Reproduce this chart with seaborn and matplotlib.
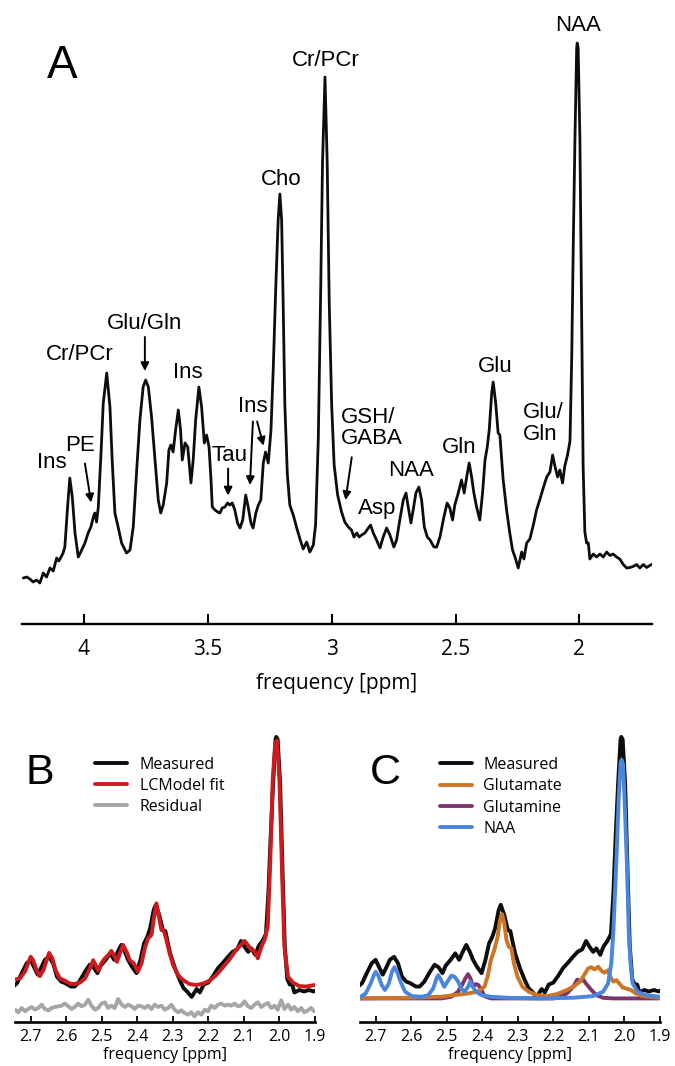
import matplotlib
matplotlib.use("Agg")
import matplotlib.pyplot as plt
import seaborn as sns

# ---------------- Panel A: measured spectrum (ppm, intensity a.u.) ----------------
ppm_A = [4.245, 4.231, 4.218, 4.205, 4.191, 4.178, 4.164, 4.151, 4.137, 4.124,
         4.110, 4.101, 4.084, 4.077, 4.066, 4.057, 4.047, 4.036, 4.023, 4.009,
         3.996, 3.983, 3.972, 3.962, 3.956, 3.949, 3.942, 3.931, 3.922, 3.908,
         3.895, 3.886, 3.875, 3.862, 3.848, 3.828, 3.814, 3.801, 3.787, 3.774,
         3.761, 3.751, 3.740, 3.727, 3.713, 3.700, 3.690, 3.680, 3.666, 3.657,
         3.649, 3.640, 3.630, 3.619, 3.610, 3.603, 3.592, 3.581, 3.568, 3.559,
         3.549, 3.536, 3.525, 3.514, 3.505, 3.495, 3.487, 3.482, 3.471, 3.460,
         3.451, 3.442, 3.431, 3.420, 3.411, 3.401, 3.391, 3.380, 3.370, 3.359,
         3.347, 3.337, 3.326, 3.317, 3.306, 3.296, 3.286, 3.276, 3.267, 3.256,
         3.245, 3.236, 3.226, 3.216, 3.209, 3.202, 3.196, 3.189, 3.179, 3.169,
         3.155, 3.141, 3.128, 3.115, 3.101, 3.088, 3.074, 3.065, 3.054, 3.045,
         3.037, 3.027, 3.018, 3.010, 3.000, 2.990, 2.976, 2.960, 2.947, 2.933,
         2.920, 2.910, 2.899, 2.889, 2.879, 2.866, 2.852, 2.843, 2.832, 2.819,
         2.805, 2.792, 2.778, 2.765, 2.749, 2.738, 2.725, 2.711, 2.700, 2.691,
         2.680, 2.671, 2.660, 2.648, 2.637, 2.626, 2.614, 2.603, 2.587, 2.576,
         2.563, 2.547, 2.534, 2.523, 2.512, 2.503, 2.489, 2.476, 2.465, 2.455,
         2.445, 2.435, 2.426, 2.415, 2.402, 2.391, 2.381, 2.372, 2.364, 2.354,
         2.348, 2.338, 2.328, 2.321, 2.308, 2.294, 2.281, 2.270, 2.260, 2.247,
         2.233, 2.224, 2.213, 2.200, 2.186, 2.173, 2.159, 2.146, 2.132, 2.119,
         2.108, 2.099, 2.088, 2.079, 2.068, 2.059, 2.048, 2.038, 2.031, 2.025,
         2.018, 2.011, 2.009, 2.005, 1.998, 1.991, 1.985, 1.978, 1.971, 1.964,
         1.958, 1.944, 1.931, 1.917, 1.904, 1.890, 1.877, 1.864, 1.850, 1.837,
         1.823, 1.809, 1.796, 1.783, 1.769, 1.756, 1.742, 1.729, 1.709]
int_A = [47, 48, 46, 43, 45, 42, 52, 48, 57, 54,
         67, 64, 72, 78, 118, 147, 128, 92, 68, 75,
         82, 92, 98, 108, 112, 103, 118, 172, 222, 252,
         218, 165, 112, 98, 82, 72, 75, 98, 155, 205,
         238, 245, 238, 208, 165, 125, 112, 120, 142, 175,
         180, 173, 195, 215, 195, 165, 182, 178, 142, 165,
         205, 238, 218, 182, 190, 178, 145, 118, 115, 113,
         112, 117, 118, 122, 120, 122, 115, 102, 97, 105,
         130, 118, 102, 97, 112, 120, 125, 162, 173, 162,
         195, 255, 335, 405, 431, 405, 325, 220, 151, 120,
         110, 97, 86, 76, 83, 73, 80, 100, 186, 324,
         462, 548, 462, 324, 220, 160, 130, 113, 103, 98,
         95, 88, 92, 88, 90, 92, 97, 100, 92, 85,
         77, 88, 97, 90, 78, 85, 105, 125, 132, 118,
         102, 115, 132, 138, 125, 98, 88, 85, 78, 78,
         88, 108, 122, 117, 105, 120, 132, 145, 132, 148,
         162, 148, 132, 118, 105, 132, 165, 178, 195, 232,
         243, 222, 192, 190, 146, 115, 92, 75, 68, 57,
         73, 66, 82, 86, 100, 115, 126, 137, 148, 153,
         170, 159, 148, 155, 142, 159, 170, 184, 268, 377,
         486, 577, 582, 577, 486, 304, 159, 93, 82, 82,
         66, 71, 68, 71, 68, 73, 69.5, 71, 68, 66,
         60.5, 57, 57.5, 58.6, 60.5, 57, 60.5, 57.5, 60.5]

tickA_pos = [4.0, 3.5, 3.0, 2.5, 2.0]
tickA_labels = ["4", "3.5", "3", "2.5", "2"]

# peak labels in panel A (text, ppm, intensity, horizontal alignment)
label_text = ["Cr/PCr", "NAA", "Cho", "Glu/Gln", "Cr/PCr", "Ins", "Ins", "PE",
              "Tau", "Ins", "GSH/\nGABA", "Asp", "NAA", "Gln", "Glu", "Glu/\nGln"]
label_ppm = [3.023, 2.006, 3.203, 3.756, 4.016, 3.582, 4.129, 4.014,
             3.411, 3.317, 2.964, 2.815, 2.680, 2.486, 2.339, 2.227]
label_int = [565, 600, 446, 302, 271, 253, 163, 180,
             170, 219, 197, 116.5, 155, 178, 259, 201.5]
label_ha = ["center"] * 10 + ["left"] + ["center"] * 4 + ["left"]

# arrows in panel A (start -> tip)
arrow_ppm0 = [3.754, 3.996, 3.418, 3.318, 3.301, 2.919]
arrow_int0 = [288, 161.5, 156.5, 203.5, 203.5, 167.7]
arrow_ppm1 = [3.754, 3.971, 3.418, 3.330, 3.275, 2.944]
arrow_int1 = [254, 122.5, 129.5, 140, 179.3, 125]

# ---------------- Panel B: LCModel fit and residual ----------------
ppm_fit = [2.744, 2.730, 2.716, 2.707, 2.700, 2.693, 2.683, 2.674, 2.664, 2.655,
           2.648, 2.639, 2.630, 2.618, 2.604, 2.590, 2.576, 2.561, 2.547, 2.533,
           2.524, 2.517, 2.510, 2.501, 2.491, 2.482, 2.473, 2.463, 2.457, 2.449,
           2.440, 2.430, 2.421, 2.410, 2.398, 2.388, 2.379, 2.370, 2.360, 2.354,
           2.346, 2.339, 2.332, 2.326, 2.318, 2.309, 2.299, 2.285, 2.271, 2.253,
           2.234, 2.215, 2.196, 2.178, 2.159, 2.140, 2.122, 2.108, 2.098, 2.089,
           2.079, 2.070, 2.061, 2.051, 2.042, 2.033, 2.026, 2.019, 2.012, 2.007,
           2.000, 1.992, 1.986, 1.976, 1.962, 1.944, 1.925, 1.902]
int_fit = [92.5, 94.5, 108, 125, 138, 131, 111, 99, 111, 131,
           146, 135, 111, 94.5, 90, 84, 83, 86, 94.5, 115,
           131, 121, 110, 125, 135, 141, 150, 138, 128, 145,
           162, 148, 131, 125, 108, 125, 155, 175, 182, 212,
           246, 219, 192, 192, 172, 145, 121, 101, 91, 83,
           81, 84, 90, 101, 117, 133, 152, 162, 170, 162,
           152, 150, 135, 158, 172, 199, 327, 495, 569, 575,
           495, 293, 158, 98, 86, 79, 78, 81]

ppm_res = [2.744, 2.735, 2.725, 2.716, 2.707, 2.697, 2.688, 2.678, 2.669, 2.660,
           2.650, 2.641, 2.632, 2.622, 2.613, 2.604, 2.594, 2.585, 2.576, 2.566,
           2.557, 2.547, 2.538, 2.529, 2.519, 2.510, 2.501, 2.491, 2.482, 2.473,
           2.463, 2.454, 2.444, 2.435, 2.426, 2.416, 2.407, 2.398, 2.388, 2.379,
           2.370, 2.360, 2.351, 2.342, 2.332, 2.323, 2.313, 2.304, 2.295, 2.285,
           2.276, 2.267, 2.257, 2.248, 2.239, 2.229, 2.220, 2.210, 2.201, 2.192,
           2.182, 2.173, 2.164, 2.154, 2.145, 2.136, 2.126, 2.117, 2.108, 2.098,
           2.089, 2.079, 2.070, 2.061, 2.051, 2.042, 2.033, 2.023, 2.014, 2.005,
           1.995, 1.986, 1.976, 1.967, 1.958, 1.948, 1.939, 1.930, 1.920, 1.911,
           1.902]
int_res = [1.3, -4.0, 4.7, -2.0, 2.7, 6.7, 1.3, 4.7, 11.4, 2.7,
           0.0, 4.7, 6.7, 8.1, 9.4, 13.5, 8.1, 2.7, 6.7, 13.5,
           8.1, 11.4, 21.5, 9.4, 1.3, 4.7, 13.5, 16.1, 4.7, 9.4,
           4.7, 22.9, 11.4, 6.7, 11.4, 8.1, 2.7, 9.4, 8.1, 4.7,
           9.4, 2.7, 11.4, 6.7, 9.4, 1.3, 4.7, 11.4, 1.3, -4.0,
           0.0, -5.4, -8.7, -4.0, -12.1, -4.0, -8.7, 1.3, -2.0, 9.4,
           4.7, 11.4, 13.5, 9.4, 11.4, 9.4, 13.5, 8.1, 9.4, 18.2,
           8.1, 4.7, 11.4, 16.1, 6.7, 11.4, 14.8, 4.7, 9.4, 1.3,
           20.2, 2.7, 11.4, 1.3, 6.7, -2.0, 4.7, -4.0, 0.0, 4.7,
           -2.0]

# ---------------- Panel C: basis components ----------------
ppm_glu = [2.742, 2.607, 2.515, 2.478, 2.440, 2.413, 2.394, 2.385, 2.376, 2.366,
           2.357, 2.350, 2.344, 2.338, 2.332, 2.325, 2.318, 2.311, 2.301, 2.287,
           2.269, 2.246, 2.218, 2.190, 2.162, 2.144, 2.125, 2.111, 2.102, 2.093,
           2.084, 2.074, 2.065, 2.056, 2.046, 2.040, 2.031, 2.023, 2.014, 2.005,
           1.995, 1.982, 1.968, 1.949, 1.903]
amp_glu = [0, 1.3, 3.4, 6.7, 10, 13.5, 23.5, 44, 77, 98,
           124, 158, 170, 151, 118, 104, 101, 71, 44, 23.5,
           13.5, 6.7, 4.7, 8.7, 17, 23.5, 34, 50, 60.5, 63,
           58.5, 64, 56, 52, 57, 44, 34, 37, 30, 22,
           20, 17, 10, 4.7, 1.3]

ppm_gln = [2.742, 2.515, 2.487, 2.468, 2.457, 2.448, 2.440, 2.433, 2.426, 2.418,
           2.411, 2.401, 2.394, 2.376, 2.199, 2.181, 2.162, 2.144, 2.133, 2.125,
           2.116, 2.107, 2.093, 2.079, 2.060, 2.033, 1.903]
amp_gln = [0, 0, 3.4, 13.5, 27, 40, 49, 40, 23.5, 29,
           27, 15.5, 4.7, 0, 0, 3.4, 10, 23.5, 38, 35,
           38, 29, 17, 6.7, 1.3, 0, 0]

ppm_naa = [2.742, 2.728, 2.714, 2.705, 2.700, 2.693, 2.683, 2.674, 2.663, 2.654,
           2.647, 2.640, 2.630, 2.617, 2.598, 2.570, 2.552, 2.538, 2.529, 2.524,
           2.516, 2.507, 2.498, 2.487, 2.478, 2.468, 2.459, 2.450, 2.440, 2.434,
           2.427, 2.417, 2.403, 2.376, 2.329, 2.237, 2.144, 2.088, 2.060, 2.046,
           2.037, 2.031, 2.023, 2.016, 2.011, 2.008, 2.004, 2.000, 1.993, 1.988,
           1.983, 1.977, 1.963, 1.940, 1.903]
amp_naa = [3.4, 10, 30, 47, 54, 47, 27, 17, 30, 54,
           63, 54, 34, 13.5, 4.7, 3.4, 6.7, 20, 40, 47,
           37, 23.5, 34, 46, 44, 34, 20, 13.5, 23.5, 34,
           23.5, 13.5, 6.7, 3.4, 1.3, 0, 1.3, 4.7, 13.5, 30,
           71, 138, 272, 407, 474, 482, 474, 407, 272, 138,
           71, 30, 13.5, 6.7, 3.4]

tickBC_pos = [2.7, 2.6, 2.5, 2.4, 2.3, 2.2, 2.1, 2.0, 1.9]
tickBC_labels = ["2.7", "2.6", "2.5", "2.4", "2.3", "2.2", "2.1", "2.0", "1.9"]

legend_B = ["Measured", "LCModel fit", "Residual"]
legend_C = ["Measured", "Glutamate", "Glutamine", "NAA"]

# display offsets (styling)
RESID_OFFSET = 30
COMPONENT_BASE = 54

# colours
C_BLACK = "#0d0d0d"
C_RED = "#cc1b1e"
C_GRAY = "#a6a6a6"
C_ORANGE = "#cc7524"
C_PURPLE = "#7a3570"
C_BLUE = "#4a87dc"

sns.set_theme(style="white")
plt.rcParams["font.family"] = ["Open Sans", "DejaVu Sans"]
plt.rcParams["text.color"] = "black"
LABEL_FONT = ["Liberation Sans", "DejaVu Sans"]

fig = plt.figure(figsize=(6.75, 10.66), dpi=100)

# ---------------- Panel A ----------------
axA = fig.add_axes([0.03259, 0.41463, 0.93333, 0.56660])
sns.lineplot(x=ppm_A, y=int_A, ax=axA, color=C_BLACK, lw=2.0, sort=False, estimator=None)
axA.set_xlim(4.25, 1.707)
axA.set_ylim(1, 605)
for s in ["top", "left", "right"]:
    axA.spines[s].set_visible(False)
axA.spines["bottom"].set_linewidth(1.7)
axA.spines["bottom"].set_color("black")
axA.set_xticks(tickA_pos)
axA.set_xticklabels(tickA_labels)
axA.set_yticks([])
axA.tick_params(axis="x", direction="in", length=7, width=1.5, colors="black",
                labelsize=15, pad=11, bottom=True)
axA.set_xlabel("frequency [ppm]", fontsize=15, labelpad=9, color="black")
axA.set_ylabel("")

for t, xp, yp, ha in zip(label_text, label_ppm, label_int, label_ha):
    axA.text(xp, yp, t, ha=ha, va="center", fontsize=16, family=LABEL_FONT,
             color="black", linespacing=1.05)
for x0, y0, x1, y1 in zip(arrow_ppm0, arrow_int0, arrow_ppm1, arrow_int1):
    axA.annotate("", xy=(x1, y1), xytext=(x0, y0),
                 arrowprops=dict(arrowstyle="-|>", color="black", lw=1.4,
                                 mutation_scale=12, shrinkA=0, shrinkB=0))
axA.text(4.089, 559, "A", ha="center", va="center", fontsize=33, family=LABEL_FONT,
         color="black")

# measured segment for B and C
sel = [i for i, p in enumerate(ppm_A) if 1.88 <= p <= 2.76]
ppm_BC = [ppm_A[i] for i in sel]
int_BC = [int_A[i] for i in sel]


def style_bc(ax):
    ax.set_xlim(2.744, 1.9)
    ax.set_ylim(7, 596)
    for s in ["top", "left", "right"]:
        ax.spines[s].set_visible(False)
    ax.spines["bottom"].set_linewidth(1.9)
    ax.spines["bottom"].set_color("black")
    ax.set_xticks(tickBC_pos)
    ax.set_xticklabels(tickBC_labels)
    ax.set_yticks([])
    ax.tick_params(axis="x", direction="in", length=4, width=1.3, colors="black",
                   labelsize=11.5, pad=5, bottom=True)
    ax.set_xlabel("frequency [ppm]", fontsize=11.5, labelpad=2, color="black")
    ax.set_ylabel("")


# ---------------- Panel B ----------------
axB = fig.add_axes([0.02222, 0.04156, 0.44444, 0.27364])
sns.lineplot(x=ppm_BC, y=int_BC, ax=axB, color=C_BLACK, lw=2.2, sort=False,
             estimator=None, label=legend_B[0])
sns.lineplot(x=ppm_fit, y=int_fit, ax=axB, color=C_RED, lw=2.2, sort=False,
             estimator=None, label=legend_B[1])
sns.lineplot(x=ppm_res, y=[v + RESID_OFFSET for v in int_res], ax=axB, color=C_GRAY,
             lw=2.2, sort=False, estimator=None, label=legend_B[2])
style_bc(axB)
hB, lB = axB.get_legend_handles_labels()
for h in hB:
    h.set_linewidth(2.8)
legB = axB.legend(hB, lB, loc="upper left", bbox_to_anchor=(95 / 675, 1 - 757 / 1066),
                  bbox_transform=fig.transFigure, frameon=False, fontsize=11.5,
                  handlelength=2.0, handletextpad=0.8, labelspacing=0.3,
                  borderpad=0, borderaxespad=0)
for t in legB.get_texts():
    t.set_color("black")
fig.text(40 / 675, 1 - 772.5 / 1066, "B", ha="center", va="center", fontsize=31,
         family=LABEL_FONT, color="black")

# ---------------- Panel C ----------------
axC = fig.add_axes([0.53333, 0.04156, 0.44444, 0.27364])
sns.lineplot(x=ppm_BC, y=int_BC, ax=axC, color=C_BLACK, lw=2.2, sort=False,
             estimator=None, label=legend_C[0])
sns.lineplot(x=ppm_gln, y=[v + COMPONENT_BASE for v in amp_gln], ax=axC, color=C_PURPLE,
             lw=2.0, sort=False, estimator=None, label=legend_C[2])
sns.lineplot(x=ppm_glu, y=[v + COMPONENT_BASE for v in amp_glu], ax=axC, color=C_ORANGE,
             lw=2.0, sort=False, estimator=None, label=legend_C[1])
sns.lineplot(x=ppm_naa, y=[v + COMPONENT_BASE for v in amp_naa], ax=axC, color=C_BLUE,
             lw=2.0, sort=False, estimator=None, label=legend_C[3])
style_bc(axC)
hC, lC = axC.get_legend_handles_labels()
order = [lC.index(n) for n in legend_C]
hC = [hC[i] for i in order]
for h in hC:
    h.set_linewidth(2.8)
legC = axC.legend(hC, legend_C, loc="upper left", bbox_to_anchor=(440 / 675, 1 - 757 / 1066),
                  bbox_transform=fig.transFigure, frameon=False, fontsize=11.5,
                  handlelength=2.0, handletextpad=0.7, labelspacing=0.33,
                  borderpad=0, borderaxespad=0)
for t in legC.get_texts():
    t.set_color("black")
fig.text(385.5 / 675, 1 - 773 / 1066, "C", ha="center", va="center", fontsize=31,
         family=LABEL_FONT, color="black")

fig.savefig("out.png", dpi=100, facecolor="white")
